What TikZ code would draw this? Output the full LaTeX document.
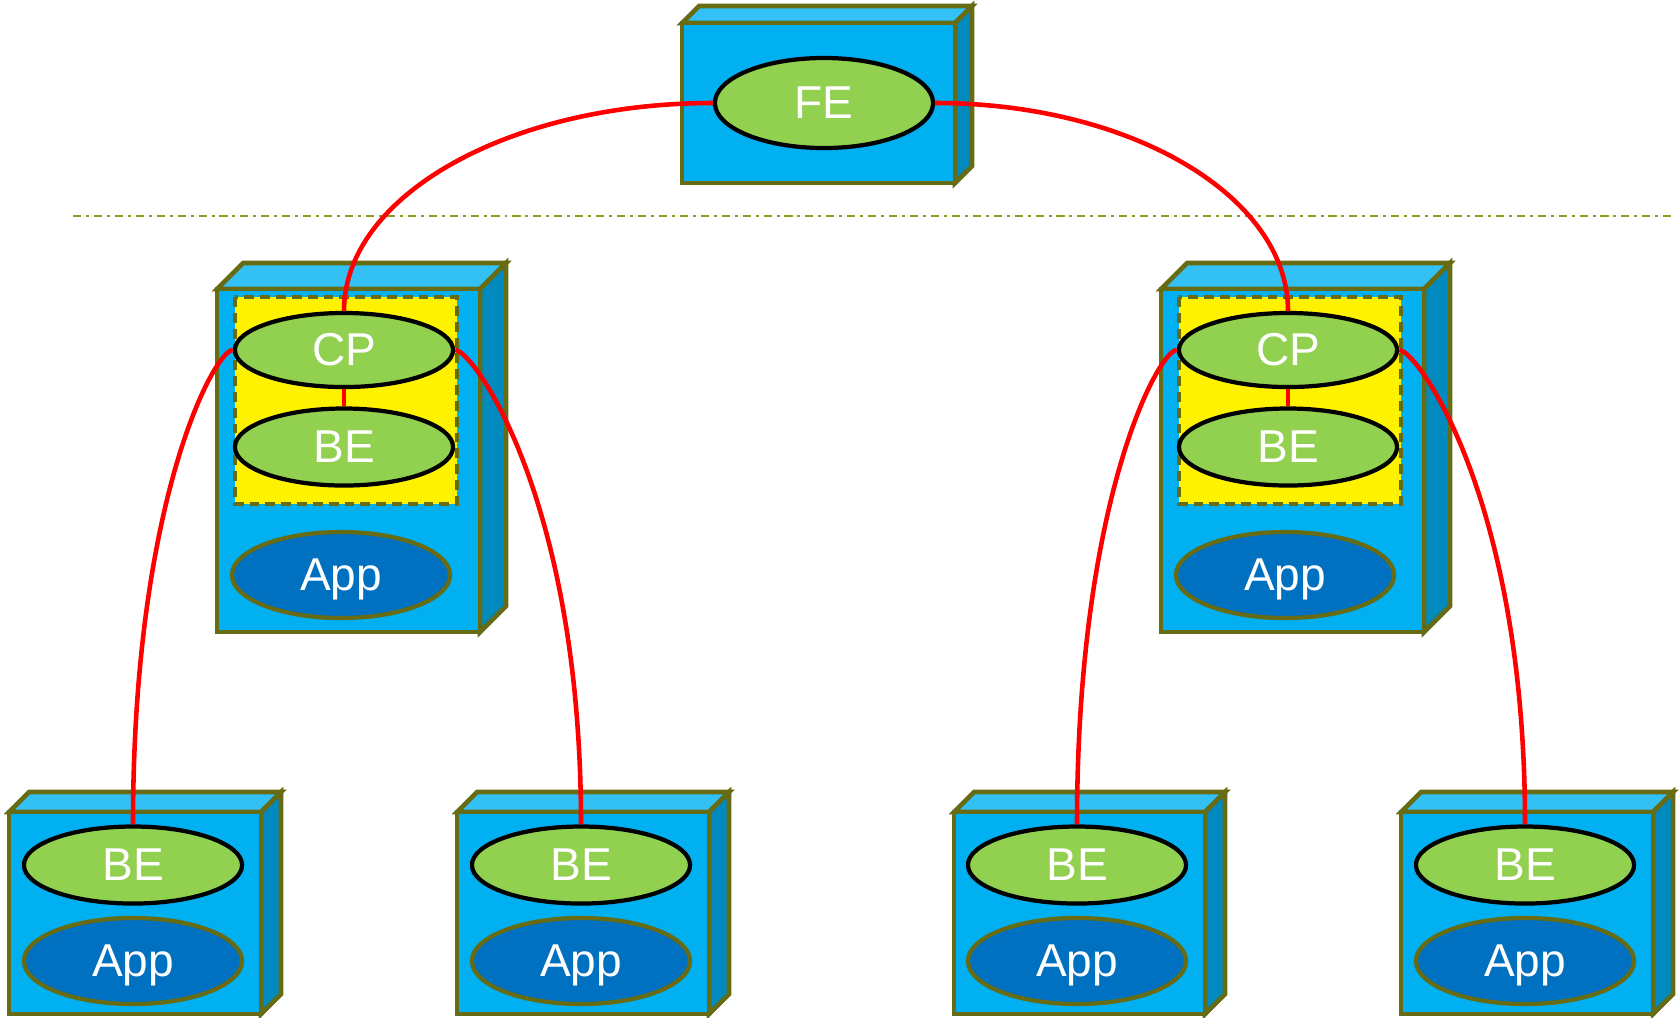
\documentclass[tikz,border=0pt]{standalone}
\usepackage{fontspec}
\setmainfont{Liberation Sans}
\usetikzlibrary{shapes.geometric}
\definecolor{rackfront}{RGB}{0,176,240}
\definecolor{racktop}{RGB}{51,192,245}
\definecolor{rackside}{RGB}{0,138,190}
\definecolor{rackedge}{RGB}{102,107,20}
\definecolor{procfill}{RGB}{146,208,80}
\definecolor{appfill}{RGB}{0,112,192}
\definecolor{sepline}{RGB}{143,154,32}
\tikzset{
  every picture/.style={font=\fontsize{13.1}{15}\selectfont},
  rack/.style={draw=rackedge,line width=1.3pt,line join=miter},
  proc/.style={ellipse,draw=black,fill=procfill,line width=1.2pt,text=white,
    inner sep=0pt,minimum width=2.18cm,minimum height=0.74cm},
  app/.style={ellipse,draw=rackedge,fill=appfill,line width=1.2pt,text=white,
    inner sep=0pt,text depth=0pt,minimum width=2.18cm,minimum height=0.86cm},
  grp/.style={draw=rackedge,fill=yellow,line width=1.2pt,dash pattern=on 2.8pt off 1.7pt},
  link/.style={red,line width=1.3pt},
}
% x1, y1, x2, y2, depth of a box (pixel units)
\newcommand{\rackbox}[5]{%
  \filldraw[rack,fill=racktop] (#1,#2) -- (#1+#5,#2-#5) -- (#3+#5,#2-#5) -- (#3,#2) -- cycle;
  \filldraw[rack,fill=rackside] (#3,#2) -- (#3+#5,#2-#5) -- (#3+#5,#4-#5) -- (#3,#4) -- cycle;
  \filldraw[rack,fill=rackfront] (#1,#2) rectangle (#3,#4);
}

\begin{document}
\begin{tikzpicture}[x=0.01cm,y=-0.01cm]
  \useasboundingbox (0,0) rectangle (1680,1017);
  % frontend
  \rackbox{682}{23}{955}{183}{17}
  \node[proc,minimum height=0.9cm] (fe) at (824,103) {FE};
  % separator
  \draw[sepline,line width=0.57pt,dash pattern=on 2.3pt off 1.4pt on 0.85pt off 1.4pt]
    (73,216) -- (1673,216);
  % middle hosts
  \rackbox{217}{289}{480}{632}{26}
  \filldraw[grp] (235,297) rectangle (457,504);
  \node[proc] (cp1) at (344,350) {CP};
  \node[proc,minimum height=0.77cm] (bem1) at (344,447) {BE};
  \node[app] (appm1) at (341,575) {App};
  \rackbox{1161}{289}{1424}{632}{26}
  \filldraw[grp] (1179,297) rectangle (1401,504);
  \node[proc] (cp2) at (1288,350) {CP};
  \node[proc,minimum height=0.77cm] (bem2) at (1288,447) {BE};
  \node[app] (appm2) at (1285,575) {App};
  % bottom hosts
  \rackbox{9}{812}{261}{1014}{20}
  \rackbox{457}{812}{709}{1014}{20}
  \rackbox{954}{812}{1205}{1014}{20}
  \rackbox{1401}{812}{1653}{1014}{20}
  \node[proc,minimum height=0.77cm] (be1) at (133,865) {BE};
  \node[app] (app1) at (133,961) {App};
  \node[proc,minimum height=0.77cm] (be2) at (581,865) {BE};
  \node[app] (app2) at (581,961) {App};
  \node[proc,minimum height=0.77cm] (be3) at (1077,865) {BE};
  \node[app] (app3) at (1077,961) {App};
  \node[proc,minimum height=0.77cm] (be4) at (1525,865) {BE};
  \node[app] (app4) at (1525,961) {App};
  % links
  \draw[link] (fe.west) .. controls +(-204,0) and +(0,-115) .. (cp1.north);
  \draw[link] (fe.east) .. controls +(195,0) and +(0,-115) .. (cp2.north);
  \draw[link] (cp1.south) -- (bem1.north);
  \draw[link] (cp2.south) -- (bem2.north);
  \draw[link] (cp1.west) .. controls +(-18,0) and +(0,-325) .. (be1.north);
  \draw[link] (cp1.east) .. controls +(18,0) and +(0,-325) .. (be2.north);
  \draw[link] (cp2.west) .. controls +(-18,0) and +(0,-325) .. (be3.north);
  \draw[link] (cp2.east) .. controls +(18,0) and +(0,-325) .. (be4.north);
\end{tikzpicture}
\end{document}
